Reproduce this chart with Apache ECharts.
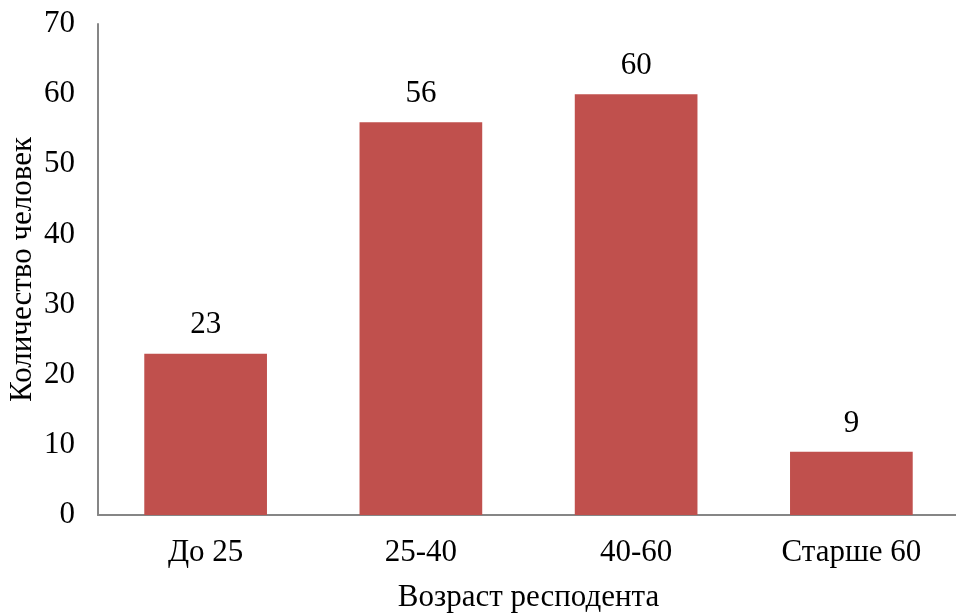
<!DOCTYPE html>
<html>
<head>
<meta charset="utf-8">
<script src="https://cdn.jsdelivr.net/npm/echarts@6/dist/echarts.min.js"></script>
<style>
  html, body { margin: 0; padding: 0; background: #fff; }
  #chart { width: 956px; height: 616px; }
</style>
</head>
<body>
<div id="chart"></div>
<script>
// Respondents by age group
const categories = ['До 25', '25-40', '40-60', 'Старше 60'];
const counts = [23, 56, 60, 9];
const yTicks = { min: 0, max: 70, interval: 10 };

const font = '"Liberation Serif", "Times New Roman", serif';
const axisColor = '#868686';
const fontSize = 31;

const chart = echarts.init(document.getElementById('chart'));
chart.setOption({
  animation: false,
  backgroundColor: '#ffffff',
  grid: { left: 98, right: -3, top: 24, bottom: 101, containLabel: false, outerBoundsMode: 'none' },
  xAxis: {
    type: 'category',
    data: categories,
    name: 'Возраст респодента',
    nameLocation: 'middle',
    nameGap: 67,
    nameMoveOverlap: false,
    nameTextStyle: { fontFamily: font, fontSize: fontSize, color: '#000' },
    axisLine: { lineStyle: { color: axisColor, width: 2 } },
    axisTick: { show: false },
    axisLabel: { fontFamily: font, fontSize: fontSize, color: '#000', margin: 22 }
  },
  yAxis: {
    type: 'value',
    min: yTicks.min,
    max: yTicks.max,
    interval: yTicks.interval,
    name: 'Количество человек',
    nameLocation: 'middle',
    nameGap: 60,
    nameRotate: 90,
    nameMoveOverlap: false,
    nameTextStyle: { fontFamily: font, fontSize: fontSize, color: '#000' },
    axisLine: { show: true, lineStyle: { color: axisColor, width: 2 } },
    axisTick: { show: false },
    splitLine: { show: false },
    axisLabel: { fontFamily: font, fontSize: fontSize, color: '#000', margin: 23 }
  },
  series: [{
    type: 'bar',
    data: counts,
    barWidth: '57%',
    itemStyle: { color: '#C0504D' },
    label: {
      show: true,
      position: 'top',
      distance: 13,
      fontFamily: font,
      fontSize: fontSize,
      color: '#000'
    }
  }]
});
</script>
</body>
</html>
